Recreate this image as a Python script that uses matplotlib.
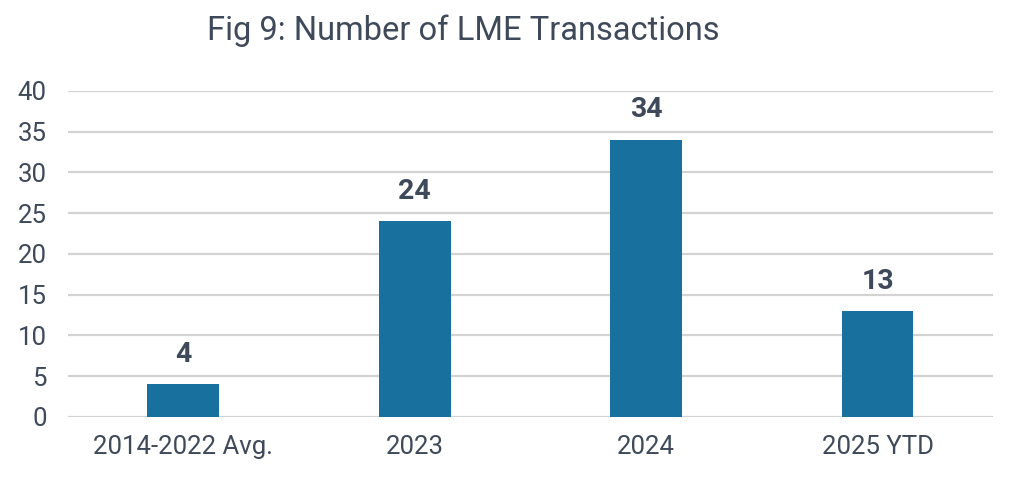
import matplotlib.pyplot as plt
import numpy as np

plt.rcParams["font.family"] = ["Roboto", "DejaVu Sans"]

categories = ["2014-2022 Avg.", "2023", "2024", "2025 YTD"]
transactions = [4, 24, 34, 13]
yticks = [0, 5, 10, 15, 20, 25, 30, 35, 40]

BAR = "#17709E"
TEXT = "#3E4A5A"
GRID = "#D3D3D3"

fig = plt.figure(figsize=(10.24, 4.91), dpi=100)
ax = fig.add_axes([0.066, 0.151, 0.904, 0.664])

x = np.arange(len(categories))
ax.bar(x, transactions, width=0.31, color=BAR, zorder=3)
for xi, v in zip(x, transactions):
    ax.text(xi, v + 2.0, str(v), ha="center", va="bottom",
            fontsize=20.5, fontweight="bold", color=TEXT)

ax.set_xlim(-0.5, 3.5)
ax.set_ylim(0, 40)
ax.set_yticks(yticks)
ax.set_xticks(x)
ax.set_xticklabels(categories)
ax.grid(axis="y", color=GRID, lw=1.6, zorder=0)
for s in ax.spines.values():
    s.set_visible(False)
ax.tick_params(length=0, labelsize=18.5, labelcolor=TEXT)
ax.tick_params(axis="y", pad=15)
ax.tick_params(axis="x", pad=13)

fig.text(0.452, 0.937, "Fig 9: Number of LME Transactions", ha="center",
         va="center", fontsize=23.5, color=TEXT)

fig.savefig("out.png", dpi=100)
